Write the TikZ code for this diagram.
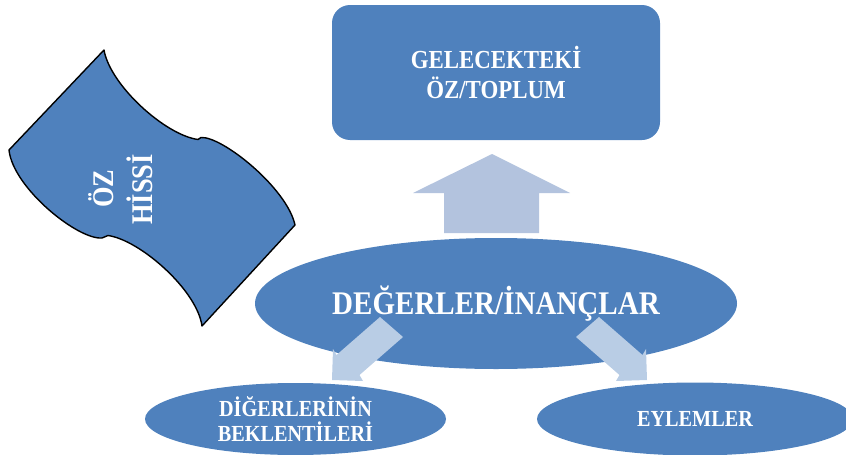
\documentclass[tikz,border=0pt]{standalone}
\usepackage{fontspec}
\setmainfont{Liberation Serif}[FakeStretch=0.88]
\usetikzlibrary{shapes.geometric}
\definecolor{mainblue}{HTML}{4F81BD}
\definecolor{uparrowc}{HTML}{B3C3DE}
\definecolor{sidearrowc}{HTML}{B9CDE5}
\tikzset{
  futurebox/.style={fill=mainblue, rounded corners=18pt, minimum width=328pt, minimum height=135pt,
    inner sep=0pt, text=white, align=center, font=\bfseries\fontsize{26}{30}\selectfont},
  bigell/.style={ellipse, fill=mainblue, minimum width=482pt, minimum height=131pt, inner sep=0pt,
    text=white, font=\bfseries\fontsize{33}{38}\selectfont},
  smallell/.style={ellipse, fill=mainblue, inner sep=0pt, text=white, align=center,
    font=\bfseries\fontsize{23}{25}\selectfont},
  flagtxt/.style={rotate=90, anchor=base, inner sep=0pt, text=white,
    font=\bfseries\fontsize{30}{36}\selectfont},
  flagshape/.style={fill=mainblue, draw=black, line width=1.4pt, line join=round},
  uparrowshape/.style={fill=uparrowc},
  sidearrowshape/.style={fill=sidearrowc}
}
\begin{document}
\begin{tikzpicture}[x=1pt,y=-1pt]
\useasboundingbox (0,0) rectangle (846,455);

% wavy flag
\draw[flagshape] (9,150) -- (104,50)
  .. controls (110,85) and (165,135) .. (198,139.5) -- (201,137.5)
  .. controls (222,136) and (287,188) .. (295,225) -- (202,326)
  .. controls (197,290) and (140,240) .. (108,235.5) -- (102,238)
  .. controls (78,240) and (13,188) .. (9,150) -- cycle;
\node[flagtxt] (oz) at (113,188.5) {ÖZ};
\node[flagtxt] (hissi) at (152,189.5) {HİSSİ};

% central ellipse
\node[bigell] (values) at (496,303.5) {DEĞERLER/İNANÇLAR};

% upward block arrow
\fill[uparrowshape] (492,154) -- (570,193) -- (539,193) -- (539,233) -- (444,233) -- (444,193) -- (413,193) -- cycle;

% top box
\node[futurebox] (future) at (496,72.5) {GELECEKTEKİ\\ÖZ/TOPLUM};

% bottom ellipses
\node[smallell, minimum width=301pt, minimum height=72pt] (others) at (295.5,419) {DİĞERLERİNİN\\BEKLENTİLERİ};
\node[smallell, minimum width=316pt, minimum height=73pt] (actions) at (695,419) {EYLEMLER};

% side block arrows
\fill[sidearrowshape] (380,317) -- (336.5,355) -- (333,349) -- (332,380) -- (363,381) -- (359.5,375) -- (403,337) -- cycle;
\fill[sidearrowshape] (599,317) -- (642.5,355) -- (646,349) -- (647,380) -- (616,381) -- (619.5,375) -- (576,337) -- cycle;
\end{tikzpicture}
\end{document}
